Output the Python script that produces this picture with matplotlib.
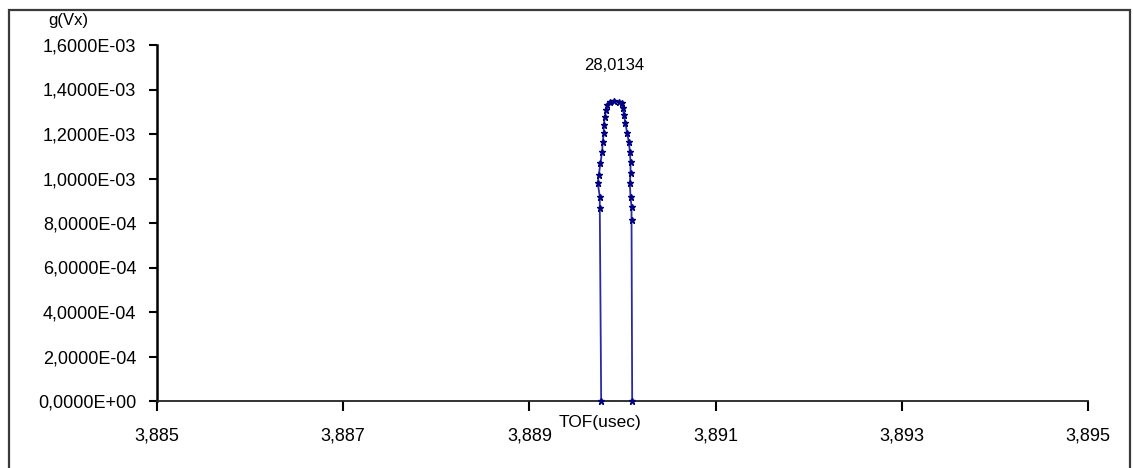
import matplotlib
matplotlib.use("Agg")
import matplotlib.pyplot as plt
from matplotlib.ticker import FuncFormatter, FixedLocator
from matplotlib.patches import Rectangle

# ---- data ----
tof = [3.889771, 3.889756, 3.889756, 3.889735, 3.889745, 3.889763, 3.889781,
       3.889788, 3.889799, 3.889799, 3.889810, 3.889825, 3.889836, 3.889864,
       3.889907, 3.889960, 3.889997, 3.890007, 3.890014, 3.890032, 3.890050,
       3.890068, 3.890079, 3.890086, 3.890086, 3.890079, 3.890086, 3.890097,
       3.890097, 3.890104]
g_vx = [0.0, 0.866e-3, 0.918e-3, 0.978e-3, 1.016e-3, 1.068e-3, 1.120e-3,
        1.165e-3, 1.203e-3, 1.240e-3, 1.278e-3, 1.308e-3, 1.330e-3, 1.345e-3,
        1.347e-3, 1.346e-3, 1.338e-3, 1.315e-3, 1.285e-3, 1.248e-3, 1.203e-3,
        1.165e-3, 1.120e-3, 1.075e-3, 1.023e-3, 0.978e-3, 0.918e-3, 0.873e-3,
        0.813e-3, 0.0]
x_ticks = [3.885, 3.887, 3.889, 3.891, 3.893, 3.895]
y_ticks = [0.0, 2e-4, 4e-4, 6e-4, 8e-4, 1.0e-3, 1.2e-3, 1.4e-3, 1.6e-3]
peak_label = "28,0134"
x_label = "TOF(usec)"
y_label = "g(Vx)"

plt.rcParams['font.family'] = ['Liberation Sans', 'DejaVu Sans']

fig = plt.figure(figsize=(11.33, 4.68), dpi=100)
fig.patch.set_facecolor('white')
fig.add_artist(Rectangle((9/1133, -0.05), 1121/1133, 1.05 - 10/468, transform=fig.transFigure,
                         fill=False, edgecolor='#3a3a3a', linewidth=1.6))

ax = fig.add_axes([157/1133, 1 - 401/468, (1088-157)/1133, (401-45)/468])
ax.plot(tof, g_vx, color='#2a2aa8', linewidth=1.3, marker='*', markersize=4.5,
        markerfacecolor='#000080', markeredgecolor='#000080', zorder=3, clip_on=False)

ax.set_xlim(x_ticks[0], x_ticks[-1])
ax.set_ylim(y_ticks[0], y_ticks[-1])
ax.xaxis.set_major_locator(FixedLocator(x_ticks))
ax.yaxis.set_major_locator(FixedLocator(y_ticks))
ax.xaxis.set_major_formatter(FuncFormatter(lambda v, p: f"{v:.3f}".replace('.', ',')))
ax.yaxis.set_major_formatter(FuncFormatter(lambda v, p: f"{v:.4E}".replace('.', ',')))

for s in ['top', 'right']:
    ax.spines[s].set_visible(False)
ax.spines['left'].set_linewidth(1.8)
ax.spines['left'].set_color('black')
ax.spines['bottom'].set_linewidth(1.3)
ax.spines['bottom'].set_color('#222222')

ax.tick_params(axis='y', direction='out', length=6, width=1.5, pad=9, labelsize=13, colors='black')
ax.tick_params(axis='x', direction='out', length=7, width=1.5, pad=12, labelsize=13, colors='black')

# labels
fig.text(68/1133, 1 - 20/468, y_label, ha='center', va='center', fontsize=12, color='black')
fig.text(600/1133, 1 - 422/468, x_label, ha='center', va='center', fontsize=12.5, color='black')

# peak label
imax = max(range(len(g_vx)), key=lambda i: g_vx[i])
ax.annotate(peak_label, xy=(tof[imax], g_vx[imax]), xytext=(0, 26), textcoords='offset points',
            ha='center', va='center', fontsize=12, color='black')

fig.savefig('out.png', dpi=100, facecolor='white')
